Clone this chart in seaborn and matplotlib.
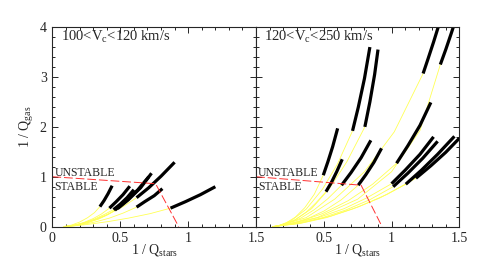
import matplotlib
matplotlib.use("Agg")
import matplotlib.pyplot as plt
import seaborn as sns
from matplotlib.ticker import MultipleLocator, FixedFormatter, FixedLocator

# tracks: yellow (early) part and black (late) part
# left panel, 100<Vc<120 km/s
left_yellow = [
    ([0.08, 0.14, 0.20, 0.26, 0.31, 0.35], [0.0, 0.03, 0.09, 0.18, 0.28, 0.40]),
    ([0.09, 0.16, 0.23, 0.30, 0.36, 0.42], [0.0, 0.03, 0.08, 0.16, 0.25, 0.37]),
    ([0.09, 0.16, 0.24, 0.31, 0.38, 0.45], [0.0, 0.03, 0.08, 0.15, 0.24, 0.34]),
    ([0.10, 0.17, 0.25, 0.32, 0.39, 0.46], [0.0, 0.02, 0.07, 0.14, 0.22, 0.33]),
    ([0.10, 0.18, 0.26, 0.34, 0.41, 0.48], [0.0, 0.03, 0.08, 0.15, 0.24, 0.36]),
    ([0.10, 0.20, 0.31, 0.42, 0.52, 0.62], [0.0, 0.05, 0.14, 0.26, 0.40, 0.58]),
    ([0.10, 0.20, 0.31, 0.42, 0.52, 0.62], [0.0, 0.03, 0.09, 0.17, 0.27, 0.39]),
    ([0.10, 0.25, 0.41, 0.56, 0.72, 0.87], [0.0, 0.04, 0.10, 0.17, 0.26, 0.37]),
]
left_black = [
    ([0.35, 0.38, 0.41, 0.44], [0.40, 0.52, 0.66, 0.82]),
    ([0.42, 0.47, 0.52, 0.57], [0.37, 0.50, 0.64, 0.81]),
    ([0.45, 0.50, 0.55, 0.60], [0.34, 0.45, 0.58, 0.74]),
    ([0.46, 0.55, 0.63, 0.71], [0.33, 0.53, 0.74, 1.00]),
    ([0.48, 0.56, 0.65, 0.73], [0.36, 0.54, 0.78, 1.07]),
    ([0.62, 0.71, 0.80, 0.90], [0.58, 0.78, 1.01, 1.29]),
    ([0.62, 0.68, 0.75, 0.81], [0.39, 0.50, 0.62, 0.76]),
    ([0.87, 0.98, 1.09, 1.20], [0.37, 0.50, 0.64, 0.80]),
]
# right panel, 120<Vc<250 km/s
right_yellow = [
    ([0.15, 0.22, 0.29, 0.36, 0.43, 0.496], [0.0, 0.07, 0.19, 0.38, 0.65, 1.03]),
    ([0.14, 0.21, 0.29, 0.37, 0.44, 0.516], [0.0, 0.05, 0.14, 0.29, 0.47, 0.70]),
    ([0.15, 0.26, 0.37, 0.49, 0.60, 0.712], [0.0, 0.12, 0.35, 0.75, 1.25, 1.92]),
    ([0.15, 0.28, 0.41, 0.54, 0.67, 0.803], [0.0, 0.12, 0.36, 0.76, 1.30, 2.00]),
    ([0.13, 0.23, 0.33, 0.43, 0.53, 0.631], [0.0, 0.06, 0.17, 0.34, 0.56, 0.83]),
    ([0.13, 0.25, 0.38, 0.50, 0.63, 0.754], [0.0, 0.06, 0.16, 0.31, 0.54, 0.83]),
    ([0.13, 0.31, 0.49, 0.68, 0.86, 1.037], [0.0, 0.09, 0.26, 0.52, 0.85, 1.27]),
    ([0.12, 0.30, 0.47, 0.65, 0.82, 1.000], [0.0, 0.07, 0.19, 0.36, 0.58, 0.86]),
    ([0.12, 0.30, 0.48, 0.66, 0.84, 1.012], [0.0, 0.06, 0.17, 0.33, 0.54, 0.80]),
    ([0.12, 0.32, 0.52, 0.71, 0.91, 1.105], [0.0, 0.06, 0.18, 0.35, 0.57, 0.85]),
    ([0.12, 0.33, 0.55, 0.76, 0.97, 1.180], [0.0, 0.07, 0.21, 0.40, 0.65, 0.97]),
    ([0.15, 0.37, 0.58, 0.80, 1.02, 1.233], [0.0, 0.18, 0.55, 1.10, 1.90, 3.07]),
    ([0.15, 0.45, 0.75, 1.00, 1.21, 1.360], [0.0, 0.18, 0.55, 1.10, 1.93, 3.25]),
]
right_black = [
    ([0.496, 0.53, 0.565, 0.602], [1.03, 1.30, 1.60, 1.97]),
    ([0.516, 0.555, 0.595, 0.636], [0.70, 0.88, 1.10, 1.35]),
    ([0.712, 0.755, 0.80, 0.84], [1.92, 2.40, 2.97, 3.60]),
    ([0.803, 0.840, 0.875, 0.90], [2.00, 2.50, 3.05, 3.55]),
    ([0.631, 0.70, 0.775, 0.847], [0.83, 1.08, 1.38, 1.73]),
    ([0.754, 0.81, 0.87, 0.926], [0.83, 1.04, 1.29, 1.57]),
    ([1.037, 1.12, 1.21, 1.29], [1.27, 1.62, 2.03, 2.49]),
    ([1.000, 1.10, 1.21, 1.31], [0.86, 1.13, 1.45, 1.80]),
    ([1.012, 1.12, 1.23, 1.34], [0.80, 1.07, 1.37, 1.71]),
    ([1.105, 1.22, 1.34, 1.464], [0.85, 1.13, 1.45, 1.81]),
    ([1.18, 1.29, 1.40, 1.50], [0.97, 1.22, 1.49, 1.77]),
    ([1.233, 1.27, 1.31, 1.35, 1.38], [3.07, 3.37, 3.70, 4.05, 4.35]),
    ([1.36, 1.40, 1.44, 1.47, 1.50], [3.25, 3.55, 3.87, 4.12, 4.40]),
]
# stability boundary
left_bound_x = [0.0, 0.76, 0.93]
left_bound_y = [1.0, 0.86, 0.0]
right_bound_x = [0.0, 0.775, 0.93]
right_bound_y = [1.0, 0.83, 0.0]

panel_titles = ["100<V$_{\\rm c}$<120 km/s", "120<V$_{\\rm c}$<250 km/s"]

sns.set_style("ticks")
plt.rcParams['font.family'] = ['Liberation Serif', 'DejaVu Serif']
plt.rcParams['mathtext.fontset'] = 'custom'
plt.rcParams['mathtext.rm'] = 'Liberation Serif'
plt.rcParams['mathtext.it'] = 'Liberation Serif'

fig = plt.figure(figsize=(4.85, 2.74), dpi=100)
ax1 = fig.add_axes([0.108, 0.173, 0.42, 0.728])
ax2 = fig.add_axes([0.528, 0.173, 0.419, 0.728])

panels = [(ax1, left_yellow, left_black, left_bound_x, left_bound_y),
          (ax2, right_yellow, right_black, right_bound_x, right_bound_y)]

for i, (ax, yel, blk, bx, by) in enumerate(panels):
    for xs, ys in yel:
        sns.lineplot(x=xs, y=ys, sort=False, ax=ax, color="#ffff55", lw=0.6)
    for xs, ys in blk:
        sns.lineplot(x=xs, y=ys, sort=False, ax=ax, color="black", lw=2.3,
                     solid_capstyle="butt")
    sns.lineplot(x=bx, y=by, sort=False, ax=ax, color="#ff3030", lw=0.7,
                 dashes=False, linestyle=(0, (9, 3)))
    ax.set_xlim(0, 1.5)
    ax.set_ylim(0, 4)
    ax.xaxis.set_major_locator(FixedLocator([0, 0.5, 1, 1.5]))
    ax.xaxis.set_minor_locator(MultipleLocator(0.1))
    ax.yaxis.set_major_locator(MultipleLocator(1))
    ax.yaxis.set_minor_locator(MultipleLocator(0.2))
    ax.tick_params(which="both", direction="in", top=True, right=True,
                   labelsize=10, width=0.7, pad=4)
    ax.tick_params(which="major", length=4)
    ax.tick_params(which="minor", length=2.2)
    for s in ax.spines.values():
        s.set_linewidth(0.8)
    ax.set_xlabel("1 / Q$_{\\rm stars}$", fontsize=10, labelpad=-2)
    ax.text(0.06, 3.8, panel_titles[i], fontsize=10.5, va="center", ha="left")
    ax.text(0.015, 1.08, "UNSTABLE", fontsize=8.5, va="center", ha="left")
    ax.text(0.015, 0.79, "STABLE", fontsize=8.5, va="center", ha="left")

ax1.xaxis.set_major_formatter(FixedFormatter(["0", "0.5", "1", "1.5"]))
ax2.xaxis.set_major_formatter(FixedFormatter(["", "0.5", "1", "1.5"]))
ax1.set_ylabel("1 / Q$_{\\rm gas}$", fontsize=10, labelpad=2.5)
ax2.set_yticklabels([])
ax2.set_ylabel("")

fig.savefig("out.png", dpi=100)
